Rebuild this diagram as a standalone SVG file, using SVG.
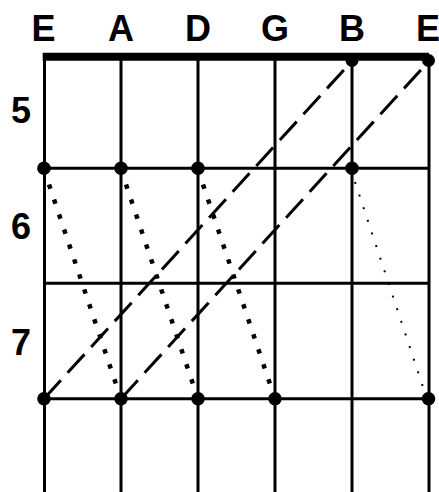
<svg xmlns="http://www.w3.org/2000/svg" width="439" height="492" viewBox="0 0 439 492">
<style>
.lbl{font-family:"Liberation Sans",Arial,sans-serif;font-weight:bold;font-size:36px;fill:#000;text-anchor:middle}
.str{stroke:#000;stroke-width:3;fill:none}
.dash{stroke:#000;stroke-width:3;stroke-dasharray:25 10;fill:none}
.dot{stroke:#000;stroke-width:4.5;stroke-dasharray:4.5 11.3;fill:none}
.fine{stroke:#000;stroke-width:2;stroke-dasharray:2 11.3;fill:none}
.n{fill:#000}
</style>
<rect width="439" height="492" fill="#fff"/>
<g id="labels">
<text class="lbl" x="43.5" y="40.5">E</text>
<text class="lbl" x="121" y="40.5">A</text>
<text class="lbl" x="198" y="40.5">D</text>
<text class="lbl" x="275" y="40.5">G</text>
<text class="lbl" x="352" y="40.5">B</text>
<text class="lbl" x="428" y="40.5">E</text>
<text class="lbl" x="21" y="123">5</text>
<text class="lbl" x="21" y="239">6</text>
<text class="lbl" x="21" y="355">7</text>
</g>
<g id="grid">
<line class="str" x1="44.5" y1="55" x2="44.5" y2="492"/>
<line class="str" x1="121" y1="55" x2="121" y2="492"/>
<line class="str" x1="198" y1="55" x2="198" y2="492"/>
<line class="str" x1="275" y1="55" x2="275" y2="492"/>
<line class="str" x1="352" y1="55" x2="352" y2="492"/>
<line class="str" x1="429" y1="55" x2="429" y2="492"/>
<line class="str" x1="44" y1="168.3" x2="429" y2="168.3"/>
<line class="str" x1="44" y1="283.3" x2="429" y2="283.3"/>
<line class="str" x1="44" y1="398.7" x2="429" y2="398.7"/>
<line x1="42.7" y1="56.7" x2="429" y2="56.7" stroke="#000" stroke-width="8"/>
</g>
<g id="connectors">
<line class="dash" x1="44" y1="398.7" x2="352" y2="61"/>
<line class="dash" x1="121" y1="398.7" x2="429" y2="61"/>
<line class="dot" x1="49" y1="184.5" x2="116" y2="384"/>
<line class="dot" x1="126" y1="184.5" x2="193" y2="384"/>
<line class="dot" x1="203" y1="184.5" x2="270" y2="384"/>
<line class="fine" x1="355" y1="182" x2="424" y2="390"/>
</g>
<g id="n-nut-B"><circle class="n" cx="352" cy="60.5" r="6.5"/></g>
<g id="n-nut-E"><circle class="n" cx="428.5" cy="60.5" r="6.5"/></g>
<g id="n-6-E"><circle class="n" cx="44" cy="168.3" r="6.8"/></g>
<g id="n-6-A"><circle class="n" cx="121" cy="168.3" r="6.8"/></g>
<g id="n-6-D"><circle class="n" cx="198" cy="168.3" r="6.8"/></g>
<g id="n-6-B"><circle class="n" cx="352" cy="168.3" r="6.8"/></g>
<g id="n-7-E"><circle class="n" cx="44" cy="398.7" r="6.8"/></g>
<g id="n-7-A"><circle class="n" cx="121" cy="398.7" r="6.8"/></g>
<g id="n-7-D"><circle class="n" cx="198" cy="398.7" r="6.8"/></g>
<g id="n-7-G"><circle class="n" cx="275" cy="398.7" r="6.8"/></g>
<g id="n-7-E2"><circle class="n" cx="428.5" cy="398.7" r="6.8"/></g>
</svg>
